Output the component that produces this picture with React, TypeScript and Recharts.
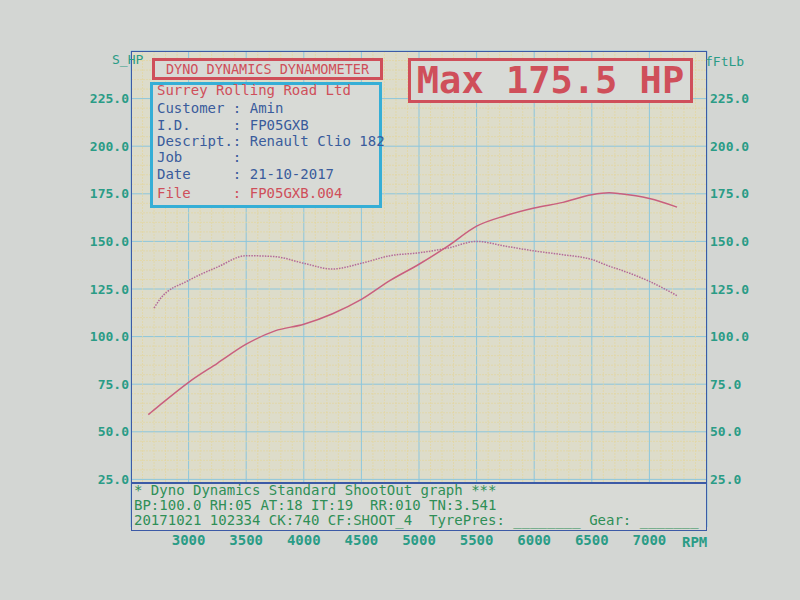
import React from "react";
import {
  LineChart,
  Line,
  XAxis,
  YAxis,
  CartesianGrid,
  ReferenceLine,
} from "recharts";

const rpm = [2650, 2700, 2750, 3000, 3250, 3500, 3750, 4000, 4250, 4500, 4750, 5000, 5250, 5500, 5750, 6000, 6250, 6500, 6650, 6750, 7000, 7240];
const powerHp = [59, 61.5, 64, 76, 86, 96, 103, 106.5, 112, 119.5, 129.5, 138, 147.5, 158, 163.5, 167.5, 170.5, 174.5, 175.5, 175, 172.5, 168];
const torqueFtLb = [null, 115, 119.5, 129.5, 136.5, 142.5, 142, 138.5, 135.5, 138.5, 142.5, 144, 146.5, 150, 147.5, 145, 143, 140.5, 137, 135, 129, 121.5];

const rpmTicks = [3000, 3500, 4000, 4500, 5000, 5500, 6000, 6500, 7000];
const valueTicks = [25, 50, 75, 100, 125, 150, 175, 200, 225];

const infoRows = [
  { text: "Surrey Rolling Road Ltd", red: true },
  { text: "Customer : Amin", red: false },
  { text: "I.D.     : FP05GXB", red: false },
  { text: "Descript.: Renault Clio 182", red: false },
  { text: "Job      :", red: false },
  { text: "Date     : 21-10-2017", red: false },
  { text: "File     : FP05GXB.004", red: true },
];

const footerLines = [
  "* Dyno Dynamics Standard ShootOut graph ***",
  "BP:100.0 RH:05 AT:18 IT:19  RR:010 TN:3.541",
  "20171021 102334 CK:740 CF:SHOOT_4  TyrePres: ________ Gear: _______",
];

const data = rpm.map((r, i) => ({ rpm: r, hp: powerHp[i], tq: torqueFtLb[i] }));

// minor grid every 100 rpm / 5 units
const minorX: number[] = [];
for (let r = 2600; r < 7500; r += 100) if (r % 500 !== 0) minorX.push(r);
const minorY: number[] = [];
for (let v = 5; v < 250; v += 5) if (v % 25 !== 0) minorY.push(v);

const MONO = "'DejaVu Sans Mono', 'Liberation Mono', monospace";
const TEAL = "#2a9c86";
const RED = "#cf4f5a";
const BLUE_TXT = "#3a5c9c";
const GREEN = "#2f8f56";
const PAPER = "#d8dad6";

const XTick = (props: any) => (
  <text x={props.x} y={545} textAnchor="middle" fill={TEAL} fontFamily={MONO} fontSize={14} fontWeight="bold">
    {props.payload.value}
  </text>
);

const LeftTick = (props: any) => (
  <text x={129} y={props.y + 4.5} textAnchor="end" fill={TEAL} fontFamily={MONO} fontSize={13} fontWeight="bold">
    {Number(props.payload.value).toFixed(1)}
  </text>
);

const RightTick = (props: any) => (
  <text x={710} y={props.y + 4.5} textAnchor="start" fill={TEAL} fontFamily={MONO} fontSize={13} fontWeight="bold">
    {Number(props.payload.value).toFixed(1)}
  </text>
);

export default function App() {
  return (
    <div style={{ position: "absolute", left: 0, top: 0, width: 800, height: 600, background: "#d3d6d3", fontFamily: MONO }}>
      <div style={{ position: "absolute", left: 0, top: 0 }}>
        <LineChart width={800} height={600} data={data} margin={{ top: 51, left: 91, right: 43, bottom: 48 }}>
          <CartesianGrid yAxisId="hp" stroke="#8cc6dc" strokeWidth={1} fill="#dddcca" fillOpacity={1} />
          {minorX.map((r) => (
            <ReferenceLine key={"mx" + r} x={r} yAxisId="hp" stroke="#e3d5a0" strokeOpacity={0.75} strokeWidth={1} strokeDasharray="2 1" />
          ))}
          {minorY.map((v) => (
            <ReferenceLine key={"my" + v} y={v} yAxisId="hp" stroke="#e3d5a0" strokeOpacity={0.75} strokeWidth={1} strokeDasharray="2 1" />
          ))}
          <XAxis
            dataKey="rpm"
            type="number"
            domain={[2500, 7500]}
            ticks={rpmTicks}
            tick={<XTick />}
            tickLine={false}
            axisLine={false}
            height={25}
            allowDataOverflow
          />
          <YAxis
            yAxisId="hp"
            domain={[0, 250]}
            ticks={valueTicks}
            tick={<LeftTick />}
            tickLine={false}
            axisLine={false}
            width={40}
          />
          <YAxis
            yAxisId="ft"
            orientation="right"
            domain={[0, 250]}
            ticks={valueTicks}
            tick={<RightTick />}
            tickLine={false}
            axisLine={false}
            width={50}
          />
          <Line yAxisId="ft" type="monotone" dataKey="tq" stroke="#b46a98" strokeWidth={1.5} strokeDasharray="1.5 1.2" dot={false} isAnimationActive={false} />
          <Line yAxisId="hp" type="monotone" dataKey="hp" stroke="#c95f7e" strokeWidth={1.5} dot={false} isAnimationActive={false} />
        </LineChart>
      </div>

      {/* footer box inside the plot frame */}
      <div style={{ position: "absolute", left: 131, top: 482, width: 576, height: 48, background: PAPER, borderTop: "2px solid #3c5aa6", boxSizing: "border-box" }} />

      {/* plot frame */}
      <div style={{ position: "absolute", left: 131, top: 51, width: 576, height: 480, border: "1.5px solid #3c5aa6", boxSizing: "border-box" }} />

      {footerLines.map((t, i) => (
        <div key={t} style={{ position: "absolute", left: 134, top: 482 + i * 15, height: 17, lineHeight: "17px", fontSize: 14, color: GREEN, whiteSpace: "pre" }}>
          {t}
        </div>
      ))}

      {/* title box */}
      <div style={{ position: "absolute", left: 152, top: 58, width: 231, height: 22, border: `3px solid ${RED}`, boxSizing: "border-box", background: PAPER, color: RED, fontSize: 13.5, lineHeight: "16px", textAlign: "center" }}>
        DYNO DYNAMICS DYNAMOMETER
      </div>

      {/* customer info box */}
      <div style={{ position: "absolute", left: 150, top: 82, width: 232, height: 126, border: "3px solid #35aed6", boxSizing: "border-box", background: PAPER }} />
      {infoRows.map((row, i) => (
        <div key={row.text} style={{ position: "absolute", left: 157, top: [82, 100, 117, 133, 149, 166, 185][i], height: 17, lineHeight: "17px", fontSize: 14, color: row.red ? RED : BLUE_TXT, whiteSpace: "pre" }}>
          {row.text}
        </div>
      ))}

      {/* max box */}
      <div style={{ position: "absolute", left: 408, top: 58, width: 285, height: 45, border: `3px solid ${RED}`, boxSizing: "border-box", background: PAPER, color: RED, fontSize: 37, fontWeight: "bold", lineHeight: "39px", textAlign: "center", whiteSpace: "pre" }}>
        Max 175.5 HP
      </div>

      {/* axis names */}
      <div style={{ position: "absolute", left: 112, top: 52, fontSize: 13, lineHeight: "16px", color: TEAL }}>S_HP</div>
      <div style={{ position: "absolute", left: 705, top: 54, fontSize: 13, lineHeight: "16px", color: TEAL }}>fFtLb</div>
      <div style={{ position: "absolute", left: 682, top: 534, fontSize: 14, lineHeight: "16px", color: TEAL, fontWeight: "bold" }}>RPM</div>
    </div>
  );
}
